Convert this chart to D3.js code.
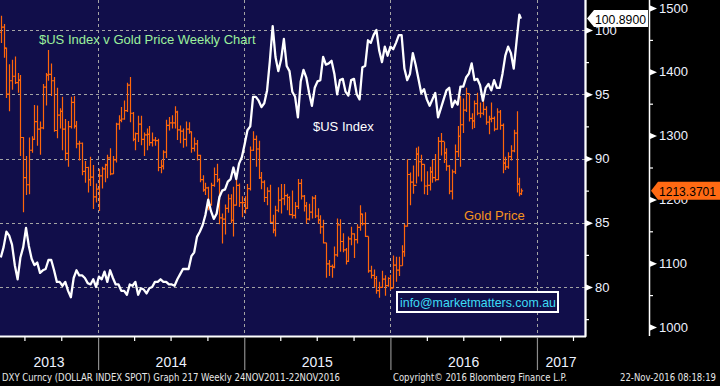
<!DOCTYPE html>
<html>
<head>
<meta charset="utf-8">
<title>$US Index v Gold Price Weekly Chart</title>
<script src="https://d3js.org/d3.v7.min.js"></script>
<style>
  body { margin: 0; background: #000; }
  svg { display: block; font-family: "Liberation Sans", Arial, sans-serif; }
</style>
</head>
<body>
<svg id="chart" width="720" height="386"></svg>
<script>
// weekly data, May 2013 -> 22 Nov 2016 (one value per week, Friday closes)

// DXY weekly close
var dxyClose = [
  82.3, 83.1, 84.3, 84.0, 83.3,  81.7, 80.6, 82.3, 83.1,  84.6, 83.2, 82.2, 81.7,
  81.9, 81.1, 81.3, 81.4, 82.1,  82.1, 81.3, 80.4, 80.4,  80.1, 80.4, 79.7, 79.2,
  80.7, 81.3, 80.9, 80.9, 80.7,  80.3, 80.2, 80.6, 80.0,
  // 2014
  80.8, 80.6, 81.2, 80.4, 81.3,  80.7, 80.2, 80.2, 79.7,  79.7, 79.4, 80.2, 80.1,
  80.4, 79.4, 79.9, 79.8,  79.5, 79.9, 80.0, 80.4, 80.4,  80.6, 80.4, 80.4, 80.2,
  80.2, 80.1, 80.6, 81.0,  81.4, 81.4, 81.4, 82.4, 82.7,  83.9, 84.3, 84.8, 85.6,
  86.8, 85.9, 85.3, 85.7, 87.0,  87.5, 87.6, 88.2, 88.4,  89.3, 88.4, 89.6, 90.1,
  // 2015
  91.1, 92.2, 92.5, 94.8, 94.8,  94.5, 94.0, 94.3, 95.3,  97.6, 100.3, 97.9, 96.8,
  97.7, 99.3, 97.2, 96.8,  95.2, 94.8, 93.2, 96.0, 96.9,  96.3, 95.1, 94.1, 95.5,
  96.0, 96.1, 97.9, 97.3, 97.4,  97.6, 96.6, 95.0, 96.1,  96.2, 95.2, 94.9, 96.1,
  96.2, 95.0, 94.6, 97.1, 97.2,  99.2, 99.0, 99.6, 100.0,  98.4, 97.5, 98.7, 98.0,
  // 2016
  98.7, 98.5, 99.0, 99.6, 99.6,  97.0, 96.1, 96.6, 98.2,  97.3, 96.2, 95.1, 95.4,
  94.6, 94.1, 94.6, 95.1, 93.2,  93.9, 94.6, 95.3, 95.5,  94.0, 94.5, 94.2, 95.6,
  95.6, 96.3, 96.6, 97.4, 96.1,  96.2, 95.7, 94.5, 95.5,  95.8, 95.3, 96.1, 95.5, 95.5,
  96.6, 98.0, 98.7, 98.2,  97.0, 99.1, 101.2, 100.89
];

// Gold weekly OHLC
var goldOpen = [
  1462, 1470, 1437, 1365, 1386,  1393, 1383, 1387, 1297,  1234, 1223, 1277, 1294,
  1322, 1310, 1312, 1376, 1395,  1396, 1386, 1308, 1332,  1338, 1310, 1272, 1314,
  1352, 1315, 1287, 1288, 1244,  1250, 1231, 1235, 1204,
  1216, 1237, 1248, 1254, 1265,  1240, 1262, 1318, 1324,  1326, 1339, 1379, 1335,
  1294, 1303, 1318, 1294,  1301, 1302, 1289, 1293, 1292,  1250, 1252, 1274, 1316,
  1320, 1320, 1337, 1309,  1307, 1294, 1310, 1306, 1280,  1287, 1269, 1231, 1215,
  1218, 1192, 1222, 1239, 1231,  1171, 1169, 1186, 1201,  1167, 1191, 1222, 1195,
  1195, 1186, 1217, 1277, 1294,  1279, 1234, 1227, 1203,  1213, 1164, 1152, 1183,
  1199, 1201, 1206, 1203,  1176, 1175, 1189, 1225, 1205,  1190, 1169, 1180, 1202,
  1174, 1168, 1157, 1132, 1099,  1095, 1094, 1113, 1160,  1134, 1121, 1103, 1138,
  1146, 1137, 1156, 1177, 1162,  1142, 1088, 1081, 1076,  1057, 1062, 1075, 1065,
  1076, 1061, 1097, 1089, 1096,  1118, 1158, 1239, 1227,  1222, 1271, 1259, 1255,
  1221, 1222, 1243, 1234, 1231,  1291, 1291, 1273, 1252,  1213, 1243, 1275, 1299,
  1317, 1340, 1366, 1327, 1323,  1350, 1335, 1335, 1341,  1321, 1326, 1327, 1310, 1337,
  1316, 1257, 1251, 1267,  1276, 1304, 1224, 1209
];
var goldHigh = [
  1488, 1475, 1438, 1412, 1419,  1424, 1398, 1395, 1298,  1268, 1297, 1299, 1348,
  1347, 1322, 1381, 1398, 1434,  1413, 1392, 1375, 1343,  1361, 1326, 1323, 1361,
  1362, 1323, 1292, 1289, 1260,  1251, 1267, 1254, 1225,
  1248, 1251, 1256, 1270, 1280,  1268, 1320, 1332, 1345,  1355, 1383, 1392, 1337,
  1305, 1331, 1331, 1305,  1311, 1315, 1305, 1298, 1295,  1262, 1277, 1325, 1329,
  1332, 1346, 1339, 1316,  1311, 1322, 1321, 1307, 1297,  1293, 1270, 1238, 1226,
  1220, 1226, 1250, 1256, 1233,  1178, 1192, 1208, 1208,  1220, 1238, 1225, 1205,
  1205, 1224, 1283, 1307, 1300,  1292, 1243, 1230, 1219,  1223, 1176, 1190, 1219,
  1224, 1224, 1209, 1205,  1214, 1196, 1232, 1232, 1207,  1196, 1193, 1205, 1207,
  1186, 1175, 1168, 1132, 1105,  1098, 1126, 1170, 1169,  1147, 1124, 1142, 1157,
  1147, 1161, 1191, 1178, 1180,  1142, 1096, 1090, 1080,  1071, 1088, 1081, 1078,
  1082, 1112, 1110, 1110, 1128,  1162, 1263, 1242, 1253,  1281, 1283, 1270, 1255,
  1244, 1251, 1262, 1271, 1298,  1304, 1290, 1280, 1254,  1247, 1286, 1315, 1362,
  1358, 1375, 1366, 1335, 1355,  1367, 1352, 1358, 1346,  1331, 1352, 1330, 1343, 1340,
  1319, 1267, 1274, 1285,  1309, 1338, 1234, 1217
];
var goldLow = [
  1445, 1422, 1359, 1338, 1372,  1381, 1367, 1268, 1180,  1207, 1208, 1273, 1293,
  1284, 1270, 1310, 1347, 1386,  1362, 1306, 1296, 1311,  1277, 1261, 1251, 1311,
  1311, 1280, 1261, 1238, 1226,  1211, 1221, 1185, 1195,
  1182, 1217, 1227, 1233, 1238,  1240, 1258, 1309, 1321,  1325, 1337, 1321, 1291,
  1277, 1290, 1285, 1268,  1277, 1284, 1283, 1284, 1244,  1241, 1247, 1265, 1308,
  1311, 1311, 1293, 1288,  1281, 1283, 1303, 1273, 1275,  1261, 1227, 1212, 1207,
  1183, 1190, 1220, 1227, 1161,  1131, 1145, 1179, 1163,  1142, 1190, 1188, 1172,
  1178, 1185, 1214, 1276, 1251,  1232, 1216, 1196, 1191,  1163, 1147, 1142, 1180,
  1178, 1191, 1183, 1175,  1170, 1170, 1185, 1200, 1181,  1162, 1167, 1170, 1171,
  1162, 1146, 1131, 1077, 1080,  1077, 1092, 1110, 1118,  1117, 1098, 1102, 1128,
  1108, 1131, 1151, 1159, 1141,  1085, 1076, 1062, 1052,  1046, 1061, 1049, 1063,
  1058, 1061, 1071, 1080, 1096,  1110, 1157, 1191, 1209,  1225, 1236, 1228, 1208,
  1207, 1214, 1226, 1228, 1230,  1269, 1257, 1245, 1208,  1200, 1240, 1266, 1251,
  1304, 1337, 1322, 1310, 1312,  1332, 1328, 1332, 1317,  1302, 1321, 1307, 1309, 1309,
  1241, 1246, 1248, 1261,  1274, 1211, 1205, 1207
];
var goldClose = [
  1470, 1437, 1365, 1386, 1393,  1383, 1387, 1297, 1234,  1223, 1277, 1294, 1322,
  1310, 1312, 1376, 1395, 1396,  1386, 1308, 1332, 1338,  1310, 1272, 1314, 1352,
  1315, 1287, 1288, 1244, 1250,  1231, 1235, 1204, 1216,
  1237, 1248, 1254, 1265, 1240,  1262, 1318, 1324, 1326,  1339, 1379, 1335, 1294,
  1303, 1318, 1294, 1301,  1302, 1289, 1293, 1292, 1250,  1252, 1274, 1316, 1320,
  1320, 1337, 1309, 1307,  1294, 1310, 1306, 1280, 1287,  1269, 1231, 1215, 1218,
  1192, 1222, 1239, 1231, 1171,  1169, 1186, 1201, 1167,  1191, 1222, 1195, 1195,
  1186, 1217, 1277, 1294, 1279,  1234, 1227, 1203, 1213,  1164, 1152, 1183, 1199,
  1201, 1206, 1203, 1176,  1175, 1189, 1225, 1205, 1190,  1169, 1180, 1202, 1174,
  1168, 1157, 1132, 1099, 1095,  1094, 1113, 1160, 1134,  1121, 1103, 1138, 1146,
  1137, 1156, 1177, 1162, 1142,  1088, 1081, 1076, 1057,  1062, 1075, 1065, 1076,
  1061, 1097, 1089, 1096, 1118,  1158, 1239, 1227, 1222,  1271, 1259, 1255, 1221,
  1222, 1243, 1234, 1231, 1291,  1291, 1273, 1252, 1213,  1243, 1275, 1299, 1317,
  1340, 1366, 1327, 1323, 1350,  1335, 1335, 1341, 1321,  1326, 1327, 1310, 1337, 1316,
  1257, 1251, 1267, 1276,  1304, 1224, 1209, 1213.3701
];

var dxyTicks = [80, 85, 90, 95, 100];
var dxyMinor = [77.5, 82.5, 87.5, 92.5, 97.5];
var goldTicks = [1000, 1100, 1200, 1300, 1400, 1500];
var goldMinor = [1050, 1150, 1250, 1350, 1450];
var years = [2013, 2014, 2015, 2016, 2017];

// week dates: Fridays, last bar is the live Tuesday 22 Nov 2016
var weeks = d3.timeFriday.range(new Date(2013, 4, 3), new Date(2016, 10, 19))
  .concat([new Date(2016, 10, 22)]);

var plotW = 585, plotH = 336;
var svg = d3.select("#chart");

var x = d3.scaleTime()
  .domain([new Date(2013, 4, 1), new Date(2017, 4, 1)])
  .range([0, plotW]);
var yDxy = d3.scaleLinear().domain([80, 100]).range([287, 30]);
var yGold = d3.scaleLinear().domain([1000, 1500]).range([327, 8]);

svg.append("rect").attr("width", 720).attr("height", 386).attr("fill", "#000");
svg.append("rect").attr("width", plotW).attr("height", plotH).attr("fill", "#110e4a");

svg.append("clipPath").attr("id", "clip")
  .append("rect").attr("width", plotW).attr("height", plotH);

// grid
var grid = svg.append("g").attr("stroke", "#a4a4a4").attr("stroke-dasharray", "3,3");
grid.selectAll("line.h").data(dxyTicks).enter().append("line")
  .attr("x1", 0).attr("x2", plotW)
  .attr("y1", function(d) { return Math.round(yDxy(d)) + 0.5; })
  .attr("y2", function(d) { return Math.round(yDxy(d)) + 0.5; });
var yearStarts = years.slice(1).map(function(y) { return new Date(y, 0, 1); });
grid.selectAll("line.v").data(yearStarts).enter().append("line")
  .attr("y1", 0).attr("y2", plotH)
  .attr("x1", function(d) { return Math.round(x(d)) + 0.5; })
  .attr("x2", function(d) { return Math.round(x(d)) + 0.5; });

var plot = svg.append("g").attr("clip-path", "url(#clip)");

// gold OHLC bars
plot.append("g").selectAll("path").data(weeks).enter().append("path")
  .attr("fill", "none")
  .attr("stroke", "#ff660a")
  .attr("stroke-width", 1.2)
  .attr("d", function(d, i) {
    var cx = Math.round(x(d)) + 0.5;
    return "M" + cx + "," + yGold(goldHigh[i]) + "V" + yGold(goldLow[i]) +
      "M" + (cx - 1.6) + "," + yGold(goldOpen[i]) + "H" + cx +
      "M" + cx + "," + yGold(goldClose[i]) + "H" + (cx + 1.6);
  });

// DXY line
var line = d3.line()
  .x(function(d, i) { return x(weeks[i]); })
  .y(function(d) { return yDxy(d); });
plot.append("path").datum(dxyClose)
  .attr("fill", "none")
  .attr("stroke", "#fff")
  .attr("stroke-width", 2.3)
  .attr("stroke-linejoin", "round")
  .attr("d", line);

// plot frame: right edge and bottom
svg.append("line").attr("x1", plotW + 0.5).attr("x2", plotW + 0.5)
  .attr("y1", 0).attr("y2", plotH + 1).attr("stroke", "#fff").attr("stroke-width", 2);
svg.append("line").attr("x1", 0).attr("x2", plotW + 1)
  .attr("y1", plotH + 0.5).attr("y2", plotH + 0.5).attr("stroke", "#fff").attr("stroke-width", 2);

// x axis ticks (quarters) and year separators
var xAxis = svg.append("g").attr("transform", "translate(0," + (plotH + 1) + ")")
  .call(d3.axisBottom(x).ticks(d3.timeMonth.every(3)).tickSize(4).tickFormat(""));
xAxis.select(".domain").remove();
xAxis.selectAll(".tick line").attr("stroke", "#fff").attr("stroke-width", 1.2);
xAxis.selectAll(".tick").filter(function(d) { return d.getMonth() === 0; })
  .select("line").attr("stroke", "#8c8c8c").attr("stroke-width", 1.2).attr("y2", 33);

svg.append("g").selectAll("text").data(years).enter().append("text")
  .attr("x", function(y) {
    var a = Math.max(0, x(new Date(y, 0, 1)));
    var b = Math.min(plotW, x(new Date(y + 1, 0, 1)));
    return (a + b) / 2;
  })
  .attr("y", 367)
  .attr("text-anchor", "middle")
  .attr("fill", "#eef2ff")
  .attr("font-size", 14)
  .text(function(y) { return y; });

// right axes
function rightAxis(scale, x0, majors, minors) {
  var g = svg.append("g").attr("transform", "translate(" + x0 + ",0)");
  g.append("line").attr("x1", 0.5).attr("x2", 0.5).attr("y1", 0).attr("y2", plotH)
    .attr("stroke", "#fff").attr("stroke-width", 1.5);
  var minor = g.append("g").call(d3.axisRight(scale).tickValues(minors).tickSize(4).tickFormat(""));
  minor.select(".domain").remove();
  minor.selectAll("line").attr("stroke", "#fff").attr("stroke-width", 1.2);
  var major = g.append("g").call(d3.axisRight(scale).tickValues(majors)
    .tickSize(0).tickPadding(10).tickFormat(d3.format("d")));
  major.select(".domain").remove();
  major.selectAll("text").attr("fill", "#eef2ff").attr("font-size", 13)
    .attr("font-family", "Liberation Sans, Arial, sans-serif");
  major.selectAll(".tick").append("path")
    .attr("d", "M0,-3.5L8,0L0,3.5Z").attr("fill", "#fff");
}
rightAxis(yDxy, plotW, dxyTicks, dxyMinor);
rightAxis(yGold, 649, goldTicks, goldMinor);

// last value tags
var lastD = dxyClose[dxyClose.length - 1];
var ty = yDxy(lastD);
svg.append("path")
  .attr("d", "M587," + ty + "L594," + (ty - 8.5) + "H648V" + (ty + 8.5) + "H594Z")
  .attr("fill", "#fff");
svg.append("text").attr("x", 595).attr("y", ty + 5).attr("font-size", 13).attr("fill", "#000")
  .attr("textLength", 51).attr("lengthAdjust", "spacingAndGlyphs")
  .text(d3.format(".4f")(lastD));

var lastG = goldClose[goldClose.length - 1];
var gy = yGold(lastG);
svg.append("path")
  .attr("d", "M651," + gy + "L658," + (gy - 9) + "H720V" + (gy + 9) + "H658Z")
  .attr("fill", "#ff6a13");
svg.append("text").attr("x", 659).attr("y", gy + 5).attr("font-size", 13).attr("fill", "#000")
  .attr("textLength", 57).attr("lengthAdjust", "spacingAndGlyphs")
  .text(d3.format(".4f")(lastG));

// annotations
svg.append("text").attr("x", 39).attr("y", 44).attr("font-size", 13)
  .attr("fill", "#9cf09c").text("$US Index v Gold Price Weekly Chart");
svg.append("text").attr("x", 313).attr("y", 131).attr("font-size", 13)
  .attr("fill", "#fff").text("$US Index");
svg.append("text").attr("x", 464).attr("y", 220).attr("font-size", 13)
  .attr("fill", "#f7941d").text("Gold Price");

svg.append("rect").attr("x", 397).attr("y", 292).attr("width", 161).attr("height", 20)
  .attr("fill", "#110e4a").attr("stroke", "#fff").attr("stroke-width", 2);
svg.append("text").attr("x", 400).attr("y", 307).attr("font-size", 13)
  .attr("textLength", 156).attr("lengthAdjust", "spacingAndGlyphs")
  .attr("fill", "#3ddcf5").text("info@marketmatters.com.au");

// footer
var foot = svg.append("g").attr("font-family", "DejaVu Sans, sans-serif")
  .attr("font-size", 10).attr("fill", "#e8e8e8").style("white-space", "pre");
foot.append("text").attr("x", 2).attr("y", 381).attr("textLength", 338)
  .attr("lengthAdjust", "spacingAndGlyphs")
  .text("DXY Curncy (DOLLAR INDEX SPOT) Graph 217  Weekly 24NOV2011-22NOV2016");
foot.append("text").attr("x", 393).attr("y", 381).attr("textLength", 174)
  .attr("lengthAdjust", "spacingAndGlyphs")
  .text("Copyright\u00a9 2016 Bloomberg Finance L.P.");
foot.append("text").attr("x", 620).attr("y", 381).attr("textLength", 96)
  .attr("lengthAdjust", "spacingAndGlyphs")
  .text("22-Nov-2016 08:18:19");
</script>
</body>
</html>
